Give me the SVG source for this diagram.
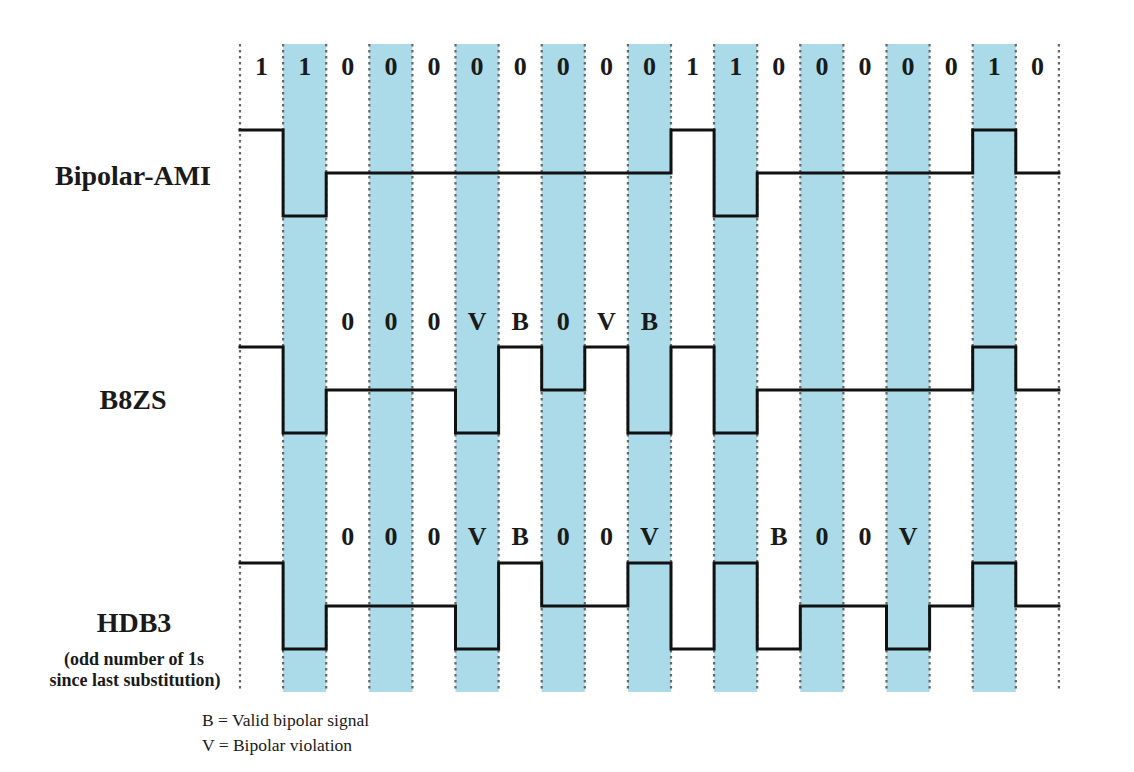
<svg xmlns="http://www.w3.org/2000/svg" width="1134" height="772" viewBox="0 0 1134 772">
<style>
.band{fill:#abdbe8}
.grid{stroke:#666;stroke-width:2.2;stroke-dasharray:2.5 3.5;fill:none}
.sig{stroke:#111;stroke-width:3;fill:none;stroke-linejoin:miter;stroke-linecap:square}
.bit{font-family:"Liberation Serif","Times New Roman",serif;font-weight:bold;font-size:26px;fill:#1a1a1a;text-anchor:middle}
.name{font-family:"Liberation Serif","Times New Roman",serif;font-weight:bold;font-size:28px;fill:#1a1a1a;text-anchor:middle}
.sub{font-family:"Liberation Serif","Times New Roman",serif;font-weight:bold;font-size:18px;fill:#1a1a1a;text-anchor:middle}
.leg{font-family:"Liberation Serif","Times New Roman",serif;font-size:17.5px;fill:#1a1a1a}
</style>
<rect width="1134" height="772" fill="#fff"/>
<g id="bands">
<rect class="band" x="283.1" y="44" width="43.1" height="648"/>
<rect class="band" x="369.3" y="44" width="43.1" height="648"/>
<rect class="band" x="455.5" y="44" width="43.1" height="648"/>
<rect class="band" x="541.7" y="44" width="43.1" height="648"/>
<rect class="band" x="627.9" y="44" width="43.1" height="648"/>
<rect class="band" x="714.1" y="44" width="43.1" height="648"/>
<rect class="band" x="800.3" y="44" width="43.1" height="648"/>
<rect class="band" x="886.5" y="44" width="43.1" height="648"/>
<rect class="band" x="972.7" y="44" width="43.1" height="648"/>
</g>
<g id="gridlines">
<path class="grid" d="M240,44V690M283.1,44V690M326.2,44V690M369.3,44V690M412.4,44V690M455.5,44V690M498.6,44V690M541.7,44V690M584.8,44V690M627.9,44V690M671,44V690M714.1,44V690M757.2,44V690M800.3,44V690M843.4,44V690M886.5,44V690M929.6,44V690M972.7,44V690M1015.8,44V690M1058.9,44V690"/>
</g>
<g id="bits">
<text class="bit" x="261.6" y="75">1</text>
<text class="bit" x="304.7" y="75">1</text>
<text class="bit" x="347.8" y="75">0</text>
<text class="bit" x="390.9" y="75">0</text>
<text class="bit" x="434" y="75">0</text>
<text class="bit" x="477.1" y="75">0</text>
<text class="bit" x="520.2" y="75">0</text>
<text class="bit" x="563.3" y="75">0</text>
<text class="bit" x="606.4" y="75">0</text>
<text class="bit" x="649.5" y="75">0</text>
<text class="bit" x="692.6" y="75">1</text>
<text class="bit" x="735.7" y="75">1</text>
<text class="bit" x="778.8" y="75">0</text>
<text class="bit" x="821.9" y="75">0</text>
<text class="bit" x="865" y="75">0</text>
<text class="bit" x="908.1" y="75">0</text>
<text class="bit" x="951.2" y="75">0</text>
<text class="bit" x="994.3" y="75">1</text>
<text class="bit" x="1037.4" y="75">0</text>
</g>
<g id="ami">
<text class="name" x="133" y="185">Bipolar-AMI</text>
</g>
<g id="b8zs">
<text class="name" x="133" y="409">B8ZS</text>
<text class="bit" x="347.8" y="330">0</text>
<text class="bit" x="390.9" y="330">0</text>
<text class="bit" x="434" y="330">0</text>
<text class="bit" x="477.1" y="330">V</text>
<text class="bit" x="520.2" y="330">B</text>
<text class="bit" x="563.3" y="330">0</text>
<text class="bit" x="606.4" y="330">V</text>
<text class="bit" x="649.5" y="330">B</text>
</g>
<g id="hdb3">
<text class="name" x="134" y="632">HDB3</text>
<text class="sub" x="134" y="665">(odd number of 1s</text>
<text class="sub" x="135" y="686">since last substitution)</text>
<text class="bit" x="347.8" y="545">0</text>
<text class="bit" x="390.9" y="545">0</text>
<text class="bit" x="434" y="545">0</text>
<text class="bit" x="477.1" y="545">V</text>
<text class="bit" x="520.2" y="545">B</text>
<text class="bit" x="563.3" y="545">0</text>
<text class="bit" x="606.4" y="545">0</text>
<text class="bit" x="649.5" y="545">V</text>
<text class="bit" x="778.8" y="545">B</text>
<text class="bit" x="821.9" y="545">0</text>
<text class="bit" x="865" y="545">0</text>
<text class="bit" x="908.1" y="545">V</text>
</g>
<g id="signals">
<path class="sig" d="M240,130H283.1V216H326.2V173H671V130H714.1V216H757.2V173H972.7V130H1015.8V173H1058.9"/>
<path class="sig" d="M240,347H283.1V433H326.2V390H455.5V433H498.6V347H541.7V390H584.8V347H627.9V433H671V347H714.1V433H757.2V390H972.7V347H1015.8V390H1058.9"/>
<path class="sig" d="M240,563H283.1V649H326.2V606H455.5V649H498.6V563H541.7V606H627.9V563H671V649H714.1V563H757.2V649H800.3V606H886.5V649H929.6V606H972.7V563H1015.8V606H1058.9"/>
</g>
<g id="legend">
<text class="leg" x="202" y="726">B = Valid bipolar signal</text>
<text class="leg" x="202" y="751">V = Bipolar violation</text>
</g>
</svg>
